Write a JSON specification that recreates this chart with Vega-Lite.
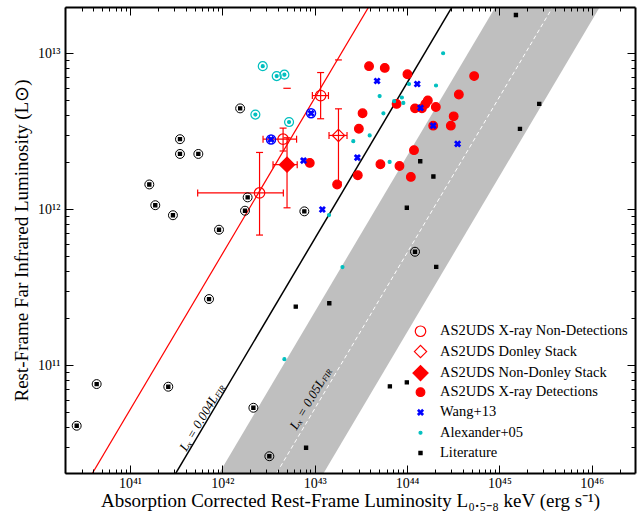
{
  "$schema": "https://vega.github.io/schema/vega-lite/v6.json",
  "width": 570,
  "height": 466,
  "autosize": {"type": "none"},
  "padding": {"left": 65, "top": 7, "right": 4, "bottom": 38},
  "background": "white",
  "config": {
    "view": {"stroke": null},
    "font": "Liberation Serif",
    "axis": {"labelFont": "Liberation Serif", "titleFont": "Liberation Serif", "labelColor": "black", "titleColor": "black", "titleFontWeight": "normal", "grid": false, "tickCount": 20, "labelOverlap": false, "labelFlush": false, "labelBound": false},
    "legend": {"labelFont": "Liberation Serif", "labelFontSize": 14.5, "labelColor": "black", "labelLimit": 0, "symbolStrokeWidth": 1.2, "labelOffset": 11, "rowPadding": -0.7, "gridAlign": "all"}
  },
  "datasets": {
    "band": [{"y": 1e10, "x": 4.57e41, "x2": 6.17e42}, {"y": 1e14, "x": 4.57e45, "x2": 6.17e46}],
    "pts": [
      {"x": 2.65e40, "y": 4.08e10, "cat": "Literature"},
      {"x": 4.36e40, "y": 7.55e10, "cat": "Literature"},
      {"x": 2.60e41, "y": 7.26e10, "cat": "Literature"},
      {"x": 7.18e41, "y": 2.65e11, "cat": "Literature"},
      {"x": 2.17e42, "y": 5.32e10, "cat": "Literature"},
      {"x": 3.23e42, "y": 2.60e10, "cat": "Literature"},
      {"x": 1.22e44, "y": 5.33e11, "cat": "Literature"},
      {"x": 3.48e41, "y": 2.81e12, "cat": "Literature"},
      {"x": 3.48e41, "y": 2.26e12, "cat": "Literature"},
      {"x": 5.50e41, "y": 2.26e12, "cat": "Literature"},
      {"x": 1.62e41, "y": 1.44e12, "cat": "Literature"},
      {"x": 1.88e41, "y": 1.06e12, "cat": "Literature"},
      {"x": 2.92e41, "y": 9.14e11, "cat": "Literature"},
      {"x": 9.21e41, "y": 7.38e11, "cat": "Literature"},
      {"x": 1.56e42, "y": 4.43e12, "cat": "Literature"},
      {"x": 1.88e42, "y": 1.19e12, "cat": "Literature"},
      {"x": 1.76e42, "y": 9.77e11, "cat": "Literature"},
      {"x": 7.73e42, "y": 9.68e11, "cat": "Literature"},
      {"x": 1.51e45, "y": 1.76e13, "cat": "Literature"},
      {"x": 2.70e45, "y": 4.73e12, "cat": "Literature"},
      {"x": 1.67e45, "y": 3.27e12, "cat": "Literature"},
      {"x": 1.39e44, "y": 2.03e12, "cat": "Literature"},
      {"x": 1.93e44, "y": 1.62e12, "cat": "Literature"},
      {"x": 9.95e43, "y": 1.02e12, "cat": "Literature"},
      {"x": 2.07e44, "y": 4.26e11, "cat": "Literature"},
      {"x": 1.44e43, "y": 2.49e11, "cat": "Literature"},
      {"x": 6.24e42, "y": 2.37e11, "cat": "Literature"},
      {"x": 6.52e43, "y": 7.30e10, "cat": "Literature"},
      {"x": 9.95e43, "y": 7.74e10, "cat": "Literature"},
      {"x": 8.07e42, "y": 2.95e10, "cat": "Literature"},
      {"x": 8.85e42, "y": 1.98e12, "cat": "AS2UDS X-ray Detections"},
      {"x": 3.88e43, "y": 8.26e12, "cat": "AS2UDS X-ray Detections"},
      {"x": 5.74e43, "y": 8.05e12, "cat": "AS2UDS X-ray Detections"},
      {"x": 1.01e44, "y": 7.33e12, "cat": "AS2UDS X-ray Detections"},
      {"x": 5.33e44, "y": 7.14e12, "cat": "AS2UDS X-ray Detections"},
      {"x": 3.64e44, "y": 5.44e12, "cat": "AS2UDS X-ray Detections"},
      {"x": 1.68e44, "y": 4.98e12, "cat": "AS2UDS X-ray Detections"},
      {"x": 1.58e44, "y": 4.73e12, "cat": "AS2UDS X-ray Detections"},
      {"x": 7.71e43, "y": 4.73e12, "cat": "AS2UDS X-ray Detections"},
      {"x": 1.22e44, "y": 4.43e12, "cat": "AS2UDS X-ray Detections"},
      {"x": 1.45e44, "y": 4.43e12, "cat": "AS2UDS X-ray Detections"},
      {"x": 2.05e44, "y": 4.52e12, "cat": "AS2UDS X-ray Detections"},
      {"x": 3.30e43, "y": 4.12e12, "cat": "AS2UDS X-ray Detections"},
      {"x": 3.20e44, "y": 3.94e12, "cat": "AS2UDS X-ray Detections"},
      {"x": 3.01e43, "y": 3.28e12, "cat": "AS2UDS X-ray Detections"},
      {"x": 2.98e44, "y": 3.43e12, "cat": "AS2UDS X-ray Detections"},
      {"x": 1.92e44, "y": 3.43e12, "cat": "AS2UDS X-ray Detections"},
      {"x": 1.19e44, "y": 2.39e12, "cat": "AS2UDS X-ray Detections"},
      {"x": 5.15e43, "y": 1.94e12, "cat": "AS2UDS X-ray Detections"},
      {"x": 8.28e43, "y": 1.89e12, "cat": "AS2UDS X-ray Detections"},
      {"x": 2.93e43, "y": 1.65e12, "cat": "AS2UDS X-ray Detections"},
      {"x": 1.10e44, "y": 1.61e12, "cat": "AS2UDS X-ray Detections"},
      {"x": 1.75e43, "y": 1.44e12, "cat": "AS2UDS X-ray Detections"},
      {"x": 2.74e42, "y": 8.26e12, "cat": "Alexander+05"},
      {"x": 3.88e42, "y": 7.14e12, "cat": "Alexander+05"},
      {"x": 4.70e42, "y": 7.29e12, "cat": "Alexander+05"},
      {"x": 2.28e42, "y": 4.04e12, "cat": "Alexander+05"},
      {"x": 5.28e42, "y": 3.62e12, "cat": "Alexander+05"},
      {"x": 2.46e44, "y": 1.00e13, "cat": "Alexander+05"},
      {"x": 1.05e44, "y": 6.35e12, "cat": "Alexander+05"},
      {"x": 2.06e44, "y": 6.21e12, "cat": "Alexander+05"},
      {"x": 5.05e43, "y": 5.31e12, "cat": "Alexander+05"},
      {"x": 8.79e43, "y": 5.20e12, "cat": "Alexander+05"},
      {"x": 7.25e43, "y": 4.93e12, "cat": "Alexander+05"},
      {"x": 9.12e43, "y": 4.80e12, "cat": "Alexander+05"},
      {"x": 5.55e43, "y": 4.12e12, "cat": "Alexander+05"},
      {"x": 3.94e43, "y": 2.97e12, "cat": "Alexander+05"},
      {"x": 2.62e43, "y": 2.73e12, "cat": "Alexander+05"},
      {"x": 6.48e43, "y": 2.01e12, "cat": "Alexander+05"},
      {"x": 1.43e43, "y": 9.16e11, "cat": "Alexander+05"},
      {"x": 2.00e43, "y": 4.25e11, "cat": "Alexander+05"},
      {"x": 4.70e42, "y": 1.09e11, "cat": "Alexander+05"},
      {"x": 9.14e42, "y": 4.12e12, "cat": "Wang+13"},
      {"x": 3.37e42, "y": 2.80e12, "cat": "Wang+13"},
      {"x": 7.58e42, "y": 2.05e12, "cat": "Wang+13"},
      {"x": 1.21e43, "y": 9.95e11, "cat": "Wang+13"},
      {"x": 4.74e43, "y": 6.64e12, "cat": "Wang+13"},
      {"x": 1.29e44, "y": 6.35e12, "cat": "Wang+13"},
      {"x": 1.40e44, "y": 4.46e12, "cat": "Wang+13"},
      {"x": 1.92e44, "y": 3.43e12, "cat": "Wang+13"},
      {"x": 3.53e44, "y": 2.62e12, "cat": "Wang+13"},
      {"x": 2.90e43, "y": 2.14e12, "cat": "Wang+13"},
      {"x": 1.16e43, "y": 5.35e12, "cat": "AS2UDS X-ray Non-Detections"},
      {"x": 4.55e42, "y": 2.81e12, "cat": "AS2UDS X-ray Non-Detections"},
      {"x": 2.53e42, "y": 1.27e12, "cat": "AS2UDS X-ray Non-Detections"},
      {"x": 1.81e43, "y": 2.97e12, "cat": "AS2UDS Donley Stack"},
      {"x": 5.02e42, "y": 1.93e12, "cat": "AS2UDS Non-Donley Stack"}
    ],
    "rings": [
      {"x": 2.65e40, "y": 4.08e10, "g": "k"},
      {"x": 4.36e40, "y": 7.55e10, "g": "k"},
      {"x": 2.60e41, "y": 7.26e10, "g": "k"},
      {"x": 7.18e41, "y": 2.65e11, "g": "k"},
      {"x": 2.17e42, "y": 5.32e10, "g": "k"},
      {"x": 3.23e42, "y": 2.60e10, "g": "k"},
      {"x": 1.22e44, "y": 5.33e11, "g": "k"},
      {"x": 3.48e41, "y": 2.81e12, "g": "k"},
      {"x": 3.48e41, "y": 2.26e12, "g": "k"},
      {"x": 5.50e41, "y": 2.26e12, "g": "k"},
      {"x": 1.62e41, "y": 1.44e12, "g": "k"},
      {"x": 1.88e41, "y": 1.06e12, "g": "k"},
      {"x": 2.92e41, "y": 9.14e11, "g": "k"},
      {"x": 9.21e41, "y": 7.38e11, "g": "k"},
      {"x": 1.56e42, "y": 4.43e12, "g": "k"},
      {"x": 1.88e42, "y": 1.19e12, "g": "k"},
      {"x": 1.76e42, "y": 9.77e11, "g": "k"},
      {"x": 7.73e42, "y": 9.68e11, "g": "k"},
      {"x": 2.74e42, "y": 8.26e12, "g": "c"},
      {"x": 3.88e42, "y": 7.14e12, "g": "c"},
      {"x": 4.70e42, "y": 7.29e12, "g": "c"},
      {"x": 2.28e42, "y": 4.04e12, "g": "c"},
      {"x": 5.28e42, "y": 3.62e12, "g": "c"},
      {"x": 9.14e42, "y": 4.12e12, "g": "b"},
      {"x": 3.37e42, "y": 2.80e12, "g": "b"}
    ],
    "errs": [
      {"x": 1.16e43, "y": 5.35e12, "xlo": 9.44e42, "xhi": 1.41e43, "ylo": 3.80e12, "yhi": 7.52e12},
      {"x": 4.55e42, "y": 2.81e12, "xlo": 2.76e42, "xhi": 6.37e42, "ylo": 2.36e12, "yhi": 3.31e12},
      {"x": 2.53e42, "y": 1.27e12, "xlo": 5.41e41, "xhi": 4.58e42, "ylo": 6.82e11, "yhi": 2.31e12},
      {"x": 1.81e43, "y": 2.97e12, "xlo": 1.43e43, "xhi": 2.24e43, "ylo": 1.49e12, "yhi": 4.40e12},
      {"x": 5.02e42, "y": 1.93e12, "xlo": 3.54e42, "xhi": 6.47e42, "ylo": 1.02e12, "yhi": 2.87e12}
    ],
    "dashes": [
      {"x": 4.58e42, "x2": 5.51e42, "y": 5.96e12},
      {"x": 1.66e43, "x2": 1.97e43, "y": 9.06e12}
    ],
    "labs": [
      {"x": 8.28e41, "y": 6.32e10, "t": "Lₓ = 0.004L", "s": "FIR"},
      {"x": 1.19e43, "y": 8.02e10, "t": "Lₓ = 0.05L", "s": "FIR"}
    ]
  },
  "layer": [
    {
      "data": {"name": "band"},
      "mark": {"type": "area", "orient": "horizontal", "color": "#bfbfbf", "clip": true},
      "encoding": {
        "y": {"field": "y", "type": "quantitative", "scale": {"type": "log", "domain": [2.03e10, 1.98e13], "nice": false},
          "axis": {"orient": "left", "title": "Rest-Frame Far Infrared Luminosity (L⊙)", "titleFontSize": 19, "titlePadding": 6, "ticks": false, "domain": false, "labelFontSize": 14, "labelPadding": 5,
            "labelExpr": "abs(log(datum.value)/LN10 - round(log(datum.value)/LN10)) > 0.0001 ? '' : round(log(datum.value)/LN10) == 11 ? '10¹¹' : round(log(datum.value)/LN10) == 12 ? '10¹²' : round(log(datum.value)/LN10) == 13 ? '10¹³' : ''"}},
        "x": {"field": "x", "type": "quantitative", "scale": {"type": "log", "domain": [1.98e40, 2.94e46], "nice": false},
          "axis": {"orient": "bottom", "title": "Absorption Corrected Rest-Frame Luminosity L₀.₅₋₈ keV (erg s⁻¹)", "titleFontSize": 19, "titlePadding": 1, "ticks": false, "domain": false, "labelFontSize": 14, "labelPadding": 3,
            "labelExpr": "abs(log(datum.value)/LN10 - round(log(datum.value)/LN10)) > 0.0001 ? '' : round(log(datum.value)/LN10) == 41 ? '10⁴¹' : round(log(datum.value)/LN10) == 42 ? '10⁴²' : round(log(datum.value)/LN10) == 43 ? '10⁴³' : round(log(datum.value)/LN10) == 44 ? '10⁴⁴' : round(log(datum.value)/LN10) == 45 ? '10⁴⁵' : round(log(datum.value)/LN10) == 46 ? '10⁴⁶' : ''"}},
        "x2": {"field": "x2"}
      }
    },
    {
      "data": {"values": [{"x": 1.94e40, "y": 1e10, "x2": 1.94e44, "y2": 1e14}]},
      "mark": {"type": "rule", "color": "red", "strokeWidth": 1.2, "clip": true},
      "encoding": {
        "x": {"field": "x", "type": "quantitative", "scale": {"type": "log", "domain": [1.98e40, 2.94e46], "nice": false},
          "axis": {"orient": "bottom", "labels": false, "title": null, "domain": true, "domainWidth": 2, "domainColor": "black", "tickColor": "black", "tickWidth": 1, "zindex": 1,
            "tickSize": {"condition": {"test": "abs(log(datum.value)/LN10 - round(log(datum.value)/LN10)) < 0.0001", "value": -8}, "value": -4}}},
        "y": {"field": "y", "type": "quantitative", "scale": {"type": "log", "domain": [2.03e10, 1.98e13], "nice": false},
          "axis": {"orient": "left", "labels": false, "title": null, "domain": true, "domainWidth": 2, "domainColor": "black", "tickColor": "black", "tickWidth": 1, "zindex": 1,
            "tickSize": {"condition": {"test": "abs(log(datum.value)/LN10 - round(log(datum.value)/LN10)) < 0.0001", "value": -8}, "value": -4}}},
        "x2": {"field": "x2"},
        "y2": {"field": "y2"}
      }
    },
    {
      "data": {"values": [{"x": 1.55e41, "y": 1e10, "x2": 1.55e45, "y2": 1e14}]},
      "mark": {"type": "rule", "color": "black", "strokeWidth": 1.5, "clip": true},
      "encoding": {
        "x": {"field": "x", "type": "quantitative", "scale": {"type": "log", "domain": [1.98e40, 2.94e46], "nice": false},
          "axis": {"orient": "top", "labels": false, "title": null, "domain": true, "domainWidth": 2, "domainColor": "black", "tickColor": "black", "tickWidth": 1, "zindex": 1,
            "tickSize": {"condition": {"test": "abs(log(datum.value)/LN10 - round(log(datum.value)/LN10)) < 0.0001", "value": -8}, "value": -4}}},
        "y": {"field": "y", "type": "quantitative", "scale": {"type": "log", "domain": [2.03e10, 1.98e13], "nice": false},
          "axis": {"orient": "right", "labels": false, "title": null, "domain": true, "domainWidth": 2, "domainColor": "black", "tickColor": "black", "tickWidth": 1, "zindex": 1,
            "tickSize": {"condition": {"test": "abs(log(datum.value)/LN10 - round(log(datum.value)/LN10)) < 0.0001", "value": -8}, "value": -4}}},
        "x2": {"field": "x2"},
        "y2": {"field": "y2"}
      }
    },
    {
      "data": {"values": [{"x": 1.91e42, "y": 1e10, "x2": 1.91e46, "y2": 1e14}]},
      "mark": {"type": "rule", "color": "white", "strokeWidth": 1, "strokeDash": [4, 3], "clip": true},
      "encoding": {
        "x": {"field": "x", "type": "quantitative", "scale": {"type": "log", "domain": [1.98e40, 2.94e46], "nice": false}, "axis": null},
        "y": {"field": "y", "type": "quantitative", "scale": {"type": "log", "domain": [2.03e10, 1.98e13], "nice": false}, "axis": null},
        "x2": {"field": "x2"},
        "y2": {"field": "y2"}
      }
    },
    {
      "data": {"name": "errs"},
      "mark": {"type": "rule", "color": "red", "strokeWidth": 1.2},
      "encoding": {
        "x": {"field": "x", "type": "quantitative", "scale": {"type": "log", "domain": [1.98e40, 2.94e46], "nice": false}, "axis": null},
        "y": {"field": "ylo", "type": "quantitative", "scale": {"type": "log", "domain": [2.03e10, 1.98e13], "nice": false}, "axis": null},
        "y2": {"field": "yhi"}
      }
    },
    {
      "data": {"name": "errs"},
      "mark": {"type": "rule", "color": "red", "strokeWidth": 1.2},
      "encoding": {
        "x": {"field": "xlo", "type": "quantitative", "scale": {"type": "log", "domain": [1.98e40, 2.94e46], "nice": false}, "axis": null},
        "x2": {"field": "xhi"},
        "y": {"field": "y", "type": "quantitative", "scale": {"type": "log", "domain": [2.03e10, 1.98e13], "nice": false}, "axis": null}
      }
    },
    {
      "data": {"name": "errs"},
      "mark": {"type": "tick", "orient": "horizontal", "color": "red", "size": 7, "thickness": 1.2, "opacity": 1},
      "encoding": {
        "x": {"field": "x", "type": "quantitative", "scale": {"type": "log", "domain": [1.98e40, 2.94e46], "nice": false}, "axis": null},
        "y": {"field": "ylo", "type": "quantitative", "scale": {"type": "log", "domain": [2.03e10, 1.98e13], "nice": false}, "axis": null}
      }
    },
    {
      "data": {"name": "errs"},
      "mark": {"type": "tick", "orient": "horizontal", "color": "red", "size": 7, "thickness": 1.2, "opacity": 1},
      "encoding": {
        "x": {"field": "x", "type": "quantitative", "scale": {"type": "log", "domain": [1.98e40, 2.94e46], "nice": false}, "axis": null},
        "y": {"field": "yhi", "type": "quantitative", "scale": {"type": "log", "domain": [2.03e10, 1.98e13], "nice": false}, "axis": null}
      }
    },
    {
      "data": {"name": "errs"},
      "mark": {"type": "tick", "orient": "vertical", "color": "red", "size": 7, "thickness": 1.2, "opacity": 1},
      "encoding": {
        "x": {"field": "xlo", "type": "quantitative", "scale": {"type": "log", "domain": [1.98e40, 2.94e46], "nice": false}, "axis": null},
        "y": {"field": "y", "type": "quantitative", "scale": {"type": "log", "domain": [2.03e10, 1.98e13], "nice": false}, "axis": null}
      }
    },
    {
      "data": {"name": "errs"},
      "mark": {"type": "tick", "orient": "vertical", "color": "red", "size": 7, "thickness": 1.2, "opacity": 1},
      "encoding": {
        "x": {"field": "xhi", "type": "quantitative", "scale": {"type": "log", "domain": [1.98e40, 2.94e46], "nice": false}, "axis": null},
        "y": {"field": "y", "type": "quantitative", "scale": {"type": "log", "domain": [2.03e10, 1.98e13], "nice": false}, "axis": null}
      }
    },
    {
      "data": {"name": "dashes"},
      "mark": {"type": "rule", "color": "red", "strokeWidth": 1.2},
      "encoding": {
        "x": {"field": "x", "type": "quantitative", "scale": {"type": "log", "domain": [1.98e40, 2.94e46], "nice": false}, "axis": null},
        "x2": {"field": "x2"},
        "y": {"field": "y", "type": "quantitative", "scale": {"type": "log", "domain": [2.03e10, 1.98e13], "nice": false}, "axis": null}
      }
    },
    {
      "data": {"name": "rings"},
      "transform": [{"filter": "datum.g == 'k'"}],
      "mark": {"type": "point", "shape": "circle", "filled": false, "color": "black", "size": 80, "strokeWidth": 1, "opacity": 1},
      "encoding": {
        "x": {"field": "x", "type": "quantitative", "scale": {"type": "log", "domain": [1.98e40, 2.94e46], "nice": false}, "axis": null},
        "y": {"field": "y", "type": "quantitative", "scale": {"type": "log", "domain": [2.03e10, 1.98e13], "nice": false}, "axis": null}
      }
    },
    {
      "data": {"name": "rings"},
      "transform": [{"filter": "datum.g == 'c'"}],
      "mark": {"type": "point", "shape": "circle", "filled": false, "color": "#00bfbf", "size": 80, "strokeWidth": 1.2, "opacity": 1},
      "encoding": {
        "x": {"field": "x", "type": "quantitative", "scale": {"type": "log", "domain": [1.98e40, 2.94e46], "nice": false}, "axis": null},
        "y": {"field": "y", "type": "quantitative", "scale": {"type": "log", "domain": [2.03e10, 1.98e13], "nice": false}, "axis": null}
      }
    },
    {
      "data": {"name": "rings"},
      "transform": [{"filter": "datum.g == 'b'"}],
      "mark": {"type": "point", "shape": "circle", "filled": false, "color": "blue", "size": 80, "strokeWidth": 1.5, "opacity": 1},
      "encoding": {
        "x": {"field": "x", "type": "quantitative", "scale": {"type": "log", "domain": [1.98e40, 2.94e46], "nice": false}, "axis": null},
        "y": {"field": "y", "type": "quantitative", "scale": {"type": "log", "domain": [2.03e10, 1.98e13], "nice": false}, "axis": null}
      }
    },
    {
      "data": {"name": "pts"},
      "mark": {"type": "point", "opacity": 1, "strokeWidth": 1.2},
      "encoding": {
        "x": {"field": "x", "type": "quantitative", "scale": {"type": "log", "domain": [1.98e40, 2.94e46], "nice": false}, "axis": null},
        "y": {"field": "y", "type": "quantitative", "scale": {"type": "log", "domain": [2.03e10, 1.98e13], "nice": false}, "axis": null},
        "shape": {"field": "cat", "type": "nominal",
          "scale": {"domain": ["AS2UDS X-ray Non-Detections", "AS2UDS Donley Stack", "AS2UDS Non-Donley Stack", "AS2UDS X-ray Detections", "Wang+13", "Alexander+05", "Literature"],
            "range": ["circle", "diamond", "diamond", "circle", "M-1,-0.6L-0.6,-1L0,-0.4L0.6,-1L1,-0.6L0.4,0L1,0.6L0.6,1L0,0.4L-0.6,1L-1,0.6L-0.4,0Z", "circle", "square"]},
          "legend": {"orient": "none", "legendX": 347, "legendY": 317, "title": null, "labelFont": "Liberation Serif", "labelFontSize": 14.5, "labelLimit": 0, "gridAlign": "all", "rowPadding": -0.7}},
        "fill": {"field": "cat", "type": "nominal",
          "scale": {"domain": ["AS2UDS X-ray Non-Detections", "AS2UDS Donley Stack", "AS2UDS Non-Donley Stack", "AS2UDS X-ray Detections", "Wang+13", "Alexander+05", "Literature"],
            "range": ["transparent", "transparent", "red", "red", "blue", "#00bfbf", "black"]},
          "legend": {"orient": "none", "legendX": 347, "legendY": 317, "title": null, "labelFont": "Liberation Serif", "labelFontSize": 14.5, "labelLimit": 0, "gridAlign": "all", "rowPadding": -0.7}},
        "stroke": {"field": "cat", "type": "nominal",
          "scale": {"domain": ["AS2UDS X-ray Non-Detections", "AS2UDS Donley Stack", "AS2UDS Non-Donley Stack", "AS2UDS X-ray Detections", "Wang+13", "Alexander+05", "Literature"],
            "range": ["red", "red", "red", "red", "blue", "#00bfbf", "black"]},
          "legend": {"orient": "none", "legendX": 347, "legendY": 317, "title": null, "labelFont": "Liberation Serif", "labelFontSize": 14.5, "labelLimit": 0, "gridAlign": "all", "rowPadding": -0.7}},
        "size": {"field": "cat", "type": "nominal",
          "scale": {"type": "ordinal", "domain": ["AS2UDS X-ray Non-Detections", "AS2UDS Donley Stack", "AS2UDS Non-Donley Stack", "AS2UDS X-ray Detections", "Wang+13", "Alexander+05", "Literature"],
            "range": [110, 150, 230, 75, 30, 9, 10]},
          "legend": {"orient": "none", "legendX": 347, "legendY": 317, "title": null, "labelFont": "Liberation Serif", "labelFontSize": 14.5, "labelLimit": 0, "gridAlign": "all", "rowPadding": -0.7}}
      }
    },
    {
      "data": {"name": "labs"},
      "mark": {"type": "text", "angle": -59.4, "align": "right", "baseline": "middle", "font": "Liberation Serif", "fontStyle": "italic", "fontSize": 13, "color": "black"},
      "encoding": {
        "x": {"field": "x", "type": "quantitative", "scale": {"type": "log", "domain": [1.98e40, 2.94e46], "nice": false}, "axis": null},
        "y": {"field": "y", "type": "quantitative", "scale": {"type": "log", "domain": [2.03e10, 1.98e13], "nice": false}, "axis": null},
        "text": {"field": "t"}
      }
    },
    {
      "data": {"name": "labs"},
      "mark": {"type": "text", "angle": -59.4, "align": "left", "baseline": "middle", "font": "Liberation Serif", "fontStyle": "italic", "fontSize": 8, "dx": 0.5, "dy": 3, "color": "black"},
      "encoding": {
        "x": {"field": "x", "type": "quantitative", "scale": {"type": "log", "domain": [1.98e40, 2.94e46], "nice": false}, "axis": null},
        "y": {"field": "y", "type": "quantitative", "scale": {"type": "log", "domain": [2.03e10, 1.98e13], "nice": false}, "axis": null},
        "text": {"field": "s"}
      }
    }
  ],
  "resolve": {"axis": {"x": "independent", "y": "independent"}}
}
